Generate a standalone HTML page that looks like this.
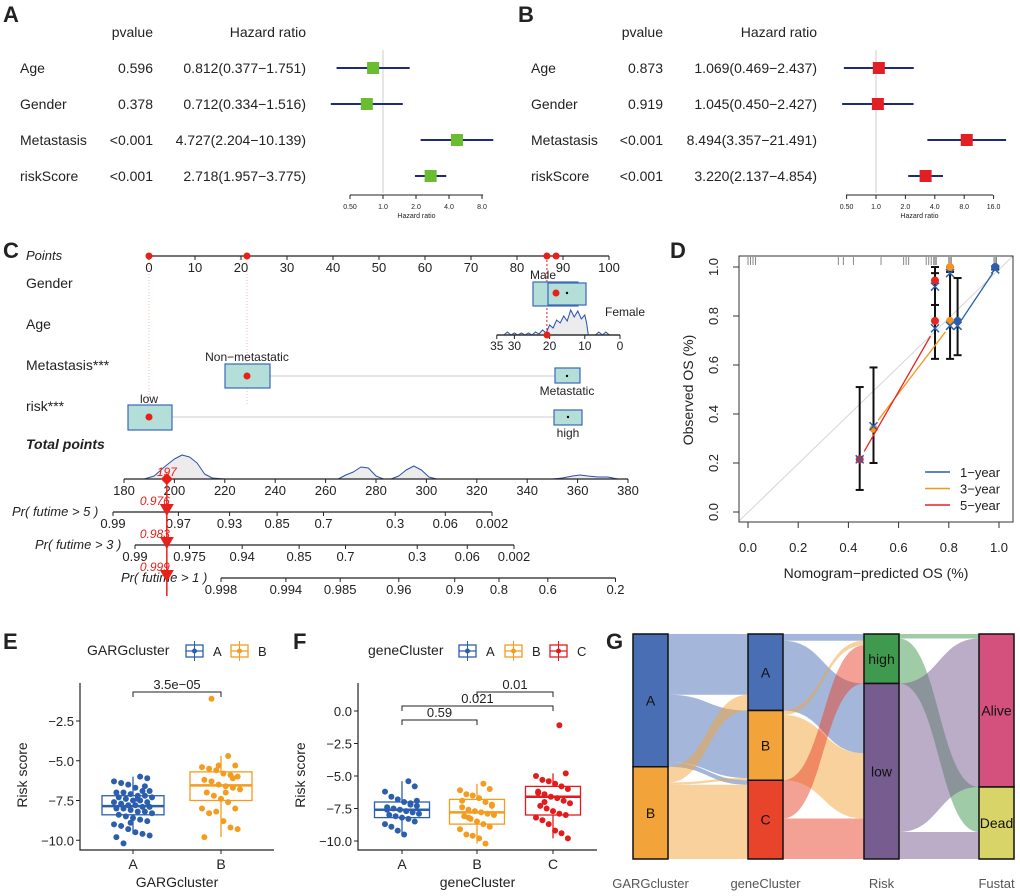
<!DOCTYPE html>
<html><head><meta charset="utf-8"><title>Figure</title>
<style>
html,body{margin:0;padding:0;background:#fff;}
svg{display:block;font-family:"Liberation Sans",Arial,sans-serif;}
</style></head>
<body>
<svg id="fig" width="1020" height="896" viewBox="0 0 1020 896" xmlns="http://www.w3.org/2000/svg">
<rect x="0" y="0" width="1020" height="896" fill="#fff"/>
<text x="3" y="22" font-size="22" font-weight="bold" fill="#222">A</text>
<text x="518" y="22" font-size="22" font-weight="bold" fill="#222">B</text>
<text x="3" y="258" font-size="22" font-weight="bold" fill="#222">C</text>
<text x="670" y="258" font-size="22" font-weight="bold" fill="#222">D</text>
<text x="3" y="649" font-size="22" font-weight="bold" fill="#222">E</text>
<text x="293" y="649" font-size="22" font-weight="bold" fill="#222">F</text>
<text x="606" y="649" font-size="22" font-weight="bold" fill="#222">G</text>
</svg>
<script>
// ---------- DATA ----------
const forestVars=['Age','Gender','Metastasis','riskScore'];
const fA_p=['0.596','0.378','<0.001','<0.001'];
const fA_hr=[0.812,0.712,4.727,2.718];
const fA_lo=[0.377,0.334,2.204,1.957];
const fA_hi=[1.751,1.516,10.139,3.775];
const fA_ticks=[0.5,1,2,4,8];
const fB_p=['0.873','0.919','<0.001','<0.001'];
const fB_hr=[1.069,1.045,8.494,3.220];
const fB_lo=[0.469,0.450,3.357,2.137];
const fB_hi=[2.437,2.427,21.491,4.854];
const fB_ticks=[0.5,1,2,4,8,16];

const nomoPointTicks=[0,10,20,30,40,50,60,70,80,90,100];
const nomoSelectedPoints=[0,21.3,86.5,88.5];
const ageTicks=[35,30,20,10,0];
const ageDensAge=[35,33,32,31,30,29,28,27,26,25,24,23,22,21,20,19,18,17,16,15,14,13,12,11,10,9.5,9,8,7,6,5,4,3,2];
const ageDensH=[0,0,3,0,2,0,2,0,2,0,3,1,5,2,10,7,15,12,19,14,25,18,24,16,20,12,0,0,0,3,0,3,0,0];
const totalTicks=[180,200,220,240,260,280,300,320,340,360,380];
const totalDensX=[188,192,196,200,203,206,209,212,215,220,265,268,271,274,277,280,283,286,289,292,295,298,301,304,350,354,358,361,364,368,372,376];
const totalDensH=[0,3,12,20,24,22,16,5,1,0,0,4,7,12,11,3,0,0,3,9,13,9,2,0,0,1,3,4,3,2,2,0];
const totalScore=197;
const probLabels=['Pr( futime > 5 )','Pr( futime > 3 )','Pr( futime > 1 )'];
const probTicks5=[0.99,0.97,0.93,0.85,0.7,0.3,0.06,0.002];
const probTicks3=[0.99,0.975,0.94,0.85,0.7,0.3,0.06,0.002];
const probTicks1=[0.998,0.994,0.985,0.96,0.9,0.8,0.6,0.2];
const probValues=[0.976,0.983,0.999];

const calRug=[0.0,0.01,0.02,0.03,0.36,0.38,0.42,0.53,0.62,0.63,0.64,0.71,0.72,0.73,0.74,0.745,0.75,0.8,0.805,0.81,0.98,0.985,0.99];
const cal1_pred=[0.835,0.985]; const cal1_obs=[0.78,1.0]; const cal1_x=[0.76,0.99]; const cal1_lo=[0.64,0.99]; const cal1_hi=[0.955,1.0];
const cal3_pred=[0.5,0.805,0.805]; const cal3_obs=[0.34,0.78,1.0]; const cal3_x=[0.35,0.76,0.975]; const cal3_lo=[0.2,0.625,0.98]; const cal3_hi=[0.59,1.0,1.0];
const cal5_pred=[0.445,0.745,0.745]; const cal5_obs=[0.215,0.78,0.945]; const cal5_x=[0.215,0.75,0.92]; const cal5_lo=[0.09,0.625,0.845]; const cal5_hi=[0.51,1.0,0.975];
const calTicks=[0,0.2,0.4,0.6,0.8,1.0];

const eCats=['A','B'];
const eA=[-6.0,-6.1,-6.3,-6.4,-6.5,-6.7,-6.9,-6.9,-7.0,-7.0,-7.1,-7.2,-7.2,-7.3,-7.3,-7.4,-7.5,-7.5,-7.6,-7.6,-7.7,-7.8,-7.8,-7.9,-7.9,-8.0,-8.0,-8.1,-8.2,-8.2,-8.3,-8.4,-8.5,-8.6,-8.7,-8.8,-9.0,-9.1,-9.3,-9.5,-9.6,-9.7,-9.8,-10.2,-8.9,-7.4,-6.6];
const eB=[-4.7,-5.3,-5.4,-5.5,-5.6,-5.8,-5.9,-6.0,-6.2,-6.3,-6.5,-6.6,-6.7,-6.8,-7.0,-7.2,-7.4,-7.6,-8.0,-8.0,-8.3,-8.2,-8.8,-9.2,-9.3,-9.8,-1.1,-5.3,-7.0,-6.1];
const eStats=[[-9.6,-8.4,-7.85,-7.2,-6.0],[-9.8,-7.5,-6.55,-5.7,-4.7]];
const eTicks=[-2.5,-5.0,-7.5,-10.0];
const fCats=['A','B','C'];
const fA=[-5.4,-5.8,-6.2,-6.6,-6.8,-7.0,-7.1,-7.3,-7.4,-7.5,-7.6,-7.7,-7.8,-7.9,-8.0,-8.1,-8.2,-8.3,-8.5,-8.7,-8.9,-9.2,-9.5,-7.2,-6.9,-7.6];
const fB=[-5.6,-6.0,-6.1,-6.4,-6.5,-6.7,-7.0,-7.2,-7.4,-7.6,-7.7,-7.8,-7.9,-8.0,-8.1,-8.3,-8.5,-8.7,-8.9,-9.1,-9.5,-9.6,-9.8,-10.2,-7.3,-6.9,-8.2];
const fC=[-1.1,-4.8,-5.0,-5.3,-5.4,-5.6,-5.8,-6.0,-6.2,-6.4,-6.6,-6.7,-6.9,-7.1,-7.3,-7.5,-7.7,-7.9,-8.0,-8.2,-8.4,-8.7,-9.2,-9.4,-9.8,-6.3,-7.0];
const fStats=[[-9.5,-8.2,-7.6,-7.0,-5.4],[-10.2,-8.7,-7.8,-6.8,-5.6],[-9.8,-8.0,-6.6,-5.8,-4.8]];
const fTicks=[0.0,-2.5,-5.0,-7.5,-10.0];

const gAxes=['GARGcluster','geneCluster','Risk','Fustat'];
const gNodes=[['A','B'],['A','B','C'],['high','low'],['Alive','Dead']];
const gNodeCounts=[[59,41],[34,31,35],[22,78],[68,32]];
const gFlows01=[[27,30,2],[7,1,33]];
const gFlows12=[[3,31],[2,29],[17,18]];
const gFlows23=[[2,20],[66,12]];

// ---------- helpers ----------
const NS='http://www.w3.org/2000/svg';
const svg=document.getElementById('fig');
function mk(tag,attrs,parent){const e=document.createElementNS(NS,tag);for(const k in attrs)e.setAttribute(k,attrs[k]);(parent||svg).appendChild(e);return e;}
function tx(str,x,y,attrs,parent){const e=mk('text',Object.assign({x:x,y:y},attrs||{}),parent);e.textContent=str;return e;}
function grp(){return mk('g',{});}
let el;

// ---------- Panels A & B forest ----------
function forest(ox,labelX,pRight,hrRight,xAt,ticks,p,hr,lo,hi,color,axL,axR,pname){
  const g=grp();
  
  
  el=tx('pvalue',pRight,37,{'font-size':14,'text-anchor':'end',fill:'#222'},g);
  
  
  el=tx('Hazard ratio',hrRight,37,{'font-size':14,'text-anchor':'end',fill:'#222'},g);
  
  
  el=mk('line',{x1:xAt(1),x2:xAt(1),y1:50,y2:193,stroke:'#ccc','stroke-width':1},g);
  
  
  forestVars.forEach((v,i)=>{
    const y=68+i*36;
    el=tx(v,labelX,y+5,{'font-size':14,fill:'#222'},g);
    
    
    el=tx(p[i],pRight,y+5,{'font-size':14,'text-anchor':'end',fill:'#222'},g);
    
    
    el=tx(hr[i].toFixed(3)+'('+lo[i].toFixed(3)+'\u2212'+hi[i].toFixed(3)+')',hrRight,y+5,{'font-size':14,'text-anchor':'end',fill:'#222'},g);
    
    
    el=mk('line',{x1:xAt(lo[i]),x2:xAt(hi[i]),y1:y,y2:y,stroke:'#1f2a78','stroke-width':2},g);
    
    
    el=mk('rect',{x:xAt(hr[i])-6,y:y-6,width:12,height:12,fill:color},g);
    
    
  });
  el=mk('line',{x1:axL,x2:axR,y1:195,y2:195,stroke:'#222','stroke-width':1},g);
  
  
  ticks.forEach(t=>{
    el=mk('line',{x1:xAt(t),x2:xAt(t),y1:195,y2:199,stroke:'#222'},g);
    
    
    el=tx(t.toFixed(t<1?2:1),xAt(t),209,{'font-size':7,'text-anchor':'middle',fill:'#222'},g);
    
    
  });
  el=tx('Hazard ratio',(axL+axR)/2,218,{'font-size':7,'text-anchor':'middle',fill:'#222'},g);
  
  
}
forest(0,20,153,306,h=>383+33*Math.log2(h),fA_ticks,fA_p,fA_hr,fA_lo,fA_hi,'#6abd2f',350,483,'forest-plot-a');
forest(500,531,663,817,h=>876+29.4*Math.log2(h),fB_ticks,fB_p,fB_hr,fB_lo,fB_hi,'#e31f26',846,993,'forest-plot-b');

// ---------- Panel C nomogram ----------
(function(){
  const g=grp();
  
  
  const ptX=v=>149+v*4.6;
  const ageX=a=>620-a*3.52;
  const totX=t=>124+(t-180)*2.52;
  const F={'font-size':14,fill:'#222'};
  // faint dotted guide lines
  [ptX(0),ptX(21.3)].forEach(x=>{
    el=mk('line',{x1:x,x2:x,y1:256,y2:405,stroke:'#f4b8b0','stroke-width':1,'stroke-dasharray':'1,2'},g);
    
    
  });
  el=mk('line',{x1:ptX(86.5),x2:ptX(86.5),y1:256,y2:335,stroke:'#e8201a','stroke-width':1,'stroke-dasharray':'2,2'},g);
  
  
  el=tx('Points',26,260,{'font-size':13,'font-style':'italic',fill:'#222'},g);
  
  
  el=mk('line',{x1:ptX(0),x2:ptX(100),y1:256,y2:256,stroke:'#222','stroke-width':1.2},g);
  
  
  nomoPointTicks.forEach(t=>{
    el=mk('line',{x1:ptX(t),x2:ptX(t),y1:256,y2:260,stroke:'#222'},g);
    
    
    el=tx(String(t),ptX(t),272,{'font-size':13,'text-anchor':'middle',fill:'#222'},g);
    
    
  });
  nomoSelectedPoints.forEach(v=>{
    el=mk('circle',{cx:ptX(v),cy:256,r:3.5,fill:'#e8201a'},g);
    
    
  });
  // variable labels
  [['Gender',288],['Age',329],['Metastasis***',370],['risk***',411]].forEach(l=>{
    el=tx(l[0],26,l[1],F,g);
    
    
  });
  el=tx('Total points',26,449,{'font-size':14,'font-weight':'bold','font-style':'italic',fill:'#222'},g);
  
  
  const BOX={fill:'#b4ded8',stroke:'#3b68b8','stroke-width':1.2};
  // gender
  el=mk('rect',Object.assign({x:533,y:282,width:45,height:24},BOX),g);
  
  
  el=mk('rect',Object.assign({x:548,y:283,width:38,height:22},BOX),g);
  
  
  el=mk('circle',{cx:556,cy:293,r:3.5,fill:'#e8201a'},g);
  
  
  el=mk('circle',{cx:567,cy:293,r:1.2,fill:'#000'},g);
  
  
  el=tx('Male',530,279,{'font-size':12,fill:'#222'},g);
  
  
  el=tx('Female',605,316,{'font-size':12,fill:'#222'},g);
  
  
  // age density
  let d='M'+ageX(ageDensAge[0])+',335';
  ageDensAge.forEach((a,i)=>{d+=' L'+ageX(a).toFixed(1)+','+(335-ageDensH[i]);});
  d+=' L'+ageX(ageDensAge[ageDensAge.length-1])+',335 Z';
  el=mk('path',{d:d,fill:'#ececec',stroke:'#2a4fb0','stroke-width':1},g);
  
  
  el=mk('line',{x1:ageX(35),x2:ageX(0),y1:335,y2:335,stroke:'#333','stroke-width':1.5},g);
  
  
  ageTicks.forEach(a=>{
    el=mk('line',{x1:ageX(a),x2:ageX(a),y1:335,y2:339,stroke:'#222'},g);
    
    
    el=tx(String(a),ageX(a),350,{'font-size':12,'text-anchor':'middle',fill:'#222'},g);
    
    
  });
  el=mk('circle',{cx:547,cy:335,r:3.5,fill:'#e8201a'},g);
  
  
  // metastasis
  el=mk('line',{x1:270,x2:555,y1:376,y2:376,stroke:'#ccc','stroke-width':1},g);
  
  
  el=mk('rect',Object.assign({x:225,y:364,width:45,height:24},BOX),g);
  
  
  el=mk('circle',{cx:247,cy:376,r:3.5,fill:'#e8201a'},g);
  
  
  el=mk('rect',Object.assign({x:555,y:368,width:25,height:15},BOX),g);
  
  
  el=mk('circle',{cx:567,cy:376,r:1.2,fill:'#000'},g);
  
  
  el=tx('Non\u2212metastatic',247,361,{'font-size':12,'text-anchor':'middle',fill:'#222'},g);
  
  
  el=tx('Metastatic',567,395,{'font-size':12,'text-anchor':'middle',fill:'#222'},g);
  
  
  // risk
  el=mk('line',{x1:172,x2:554,y1:417,y2:417,stroke:'#ccc','stroke-width':1},g);
  
  
  el=mk('rect',Object.assign({x:128,y:405,width:44,height:25},BOX),g);
  
  
  el=mk('circle',{cx:149,cy:417,r:3.5,fill:'#e8201a'},g);
  
  
  el=mk('rect',Object.assign({x:554,y:410,width:28,height:15},BOX),g);
  
  
  el=mk('circle',{cx:568,cy:417,r:1.2,fill:'#000'},g);
  
  
  el=tx('low',149,403,{'font-size':12,'text-anchor':'middle',fill:'#222'},g);
  
  
  el=tx('high',568,437,{'font-size':12,'text-anchor':'middle',fill:'#222'},g);
  
  
  // total density
  d='M'+totX(totalDensX[0]).toFixed(1)+',479';
  totalDensX.forEach((t,i)=>{d+=' L'+totX(t).toFixed(1)+','+(479-totalDensH[i]);});
  d+=' Z';
  el=mk('path',{d:d,fill:'#ececec',stroke:'#2a4fb0','stroke-width':1,'stroke-linejoin':'round'},g);
  
  
  el=mk('line',{x1:totX(180),x2:totX(380),y1:479,y2:479,stroke:'#222','stroke-width':1.2},g);
  
  
  totalTicks.forEach(t=>{
    el=mk('line',{x1:totX(t),x2:totX(t),y1:479,y2:483,stroke:'#222'},g);
    
    
    el=tx(String(t),totX(t),495,{'font-size':13,'text-anchor':'middle',fill:'#222'},g);
    
    
  });
  const sx=totX(totalScore);
  el=tx(String(totalScore),sx,476,{'font-size':12,'font-style':'italic','text-anchor':'middle',fill:'#e8201a'},g);
  
  
  // prob axes
  const lpx=p=>Math.log(-Math.log(p));
  const axes=[[probTicks5,113,512,12],[probTicks3,135,545,35],[probTicks1,221,578,121]];
  axes.forEach((a,k)=>{
    const ticks=a[0],x0=a[1],y=a[2];
    const px=p=>x0+58.97*(lpx(p)-lpx(ticks[0]));
    el=tx(probLabels[k],a[3],y+4,{'font-size':13,'font-style':'italic',fill:'#222'},g);
    
    
    el=mk('line',{x1:px(ticks[0]),x2:px(ticks[ticks.length-1]),y1:y,y2:y,stroke:'#222','stroke-width':1.2},g);
    
    
    ticks.forEach(t=>{
      el=mk('line',{x1:px(t),x2:px(t),y1:y,y2:y+4,stroke:'#222'},g);
      
      
      el=tx(String(t),px(t),y+16,{'font-size':13,'text-anchor':'middle',fill:'#222'},g);
      
      
    });
    el=tx(probValues[k].toFixed(3),sx-27,y-7,{'font-size':12,'font-style':'italic',fill:'#e8201a'},g);
    
    
  });
  el=mk('line',{x1:sx,x2:sx,y1:479,y2:596,stroke:'#e8201a','stroke-width':1.5},g);
  
  
  el=mk('path',{d:`M${sx},473 L${sx+6},479 L${sx},485 L${sx-6},479 Z`,fill:'#e8201a'},g);
  
  
  [512,545,578].forEach(y=>{
    el=mk('path',{d:`M${sx-7},${y-8} L${sx+7},${y-8} L${sx},${y+4} Z`,fill:'#e8201a'},g);
    
    
  });
})();

// ---------- Panel D calibration ----------
(function(){
  const g=grp();
  
  
  const X=v=>748+v*251, Y=v=>512-v*245;
  el=mk('line',{x1:739,y1:521,x2:1013,y2:256,stroke:'#d6d6d6','stroke-width':1},g);
  
  
  calRug.forEach(v=>{
    el=mk('line',{x1:X(v),x2:X(v),y1:257,y2:265,stroke:'#888','stroke-width':1},g);
    
    
  });
  const series=[[cal1_pred,cal1_obs,cal1_x,cal1_lo,cal1_hi,'#2b5fae','1-year'],[cal3_pred,cal3_obs,cal3_x,cal3_lo,cal3_hi,'#f7941d','3-year'],[cal5_pred,cal5_obs,cal5_x,cal5_lo,cal5_hi,'#e8251f','5-year']];
  series.forEach(s=>{
    s[0].forEach((p,i)=>{
      el=mk('line',{x1:X(p),x2:X(p),y1:Y(s[3][i]),y2:Y(s[4][i]),stroke:'#111','stroke-width':2},g);
      
      
      [s[3][i],s[4][i]].forEach(v=>{
        el=mk('line',{x1:X(p)-4,x2:X(p)+4,y1:Y(v),y2:Y(v),stroke:'#111','stroke-width':2},g);
        
        
      });
    });
  });
  series.forEach(s=>{
    const n=s[0].length;
    const i0=0, i1=(n===2?1:1);
    const xa=s[0][0],ya=s[2][0],xb=s[0][i1],yb=s[2][i1];
    const f=0.06;
    el=mk('line',{x1:X(xa+(xb-xa)*f),y1:Y(ya+(yb-ya)*f),x2:X(xb-(xb-xa)*f),y2:Y(yb-(yb-ya)*f),stroke:s[5],'stroke-width':1.3},g);
    
    
    s[0].forEach((p,i)=>{
      el=mk('circle',{cx:X(p),cy:Y(s[1][i]),r:4,fill:s[5]},g);
      
      
      const cx=X(p),cy=Y(s[2][i]);
      el=mk('path',{d:`M${cx-4},${cy-4} L${cx+4},${cy+4} M${cx-4},${cy+4} L${cx+4},${cy-4}`,stroke:'#2b5fae','stroke-width':1.5},g);
      
      
    });
  });
  el=mk('rect',{x:739,y:256,width:274,height:266,fill:'none',stroke:'#333','stroke-width':1},g);
  
  
  calTicks.forEach(t=>{
    el=mk('line',{x1:X(t),x2:X(t),y1:522,y2:528,stroke:'#333'},g);
    
    
    el=tx(t.toFixed(1),X(t),552,{'font-size':13,'text-anchor':'middle',fill:'#222'},g);
    
    
    el=mk('line',{x1:739,x2:733,y1:Y(t),y2:Y(t),stroke:'#333'},g);
    
    
    el=tx(t.toFixed(1),718,Y(t),{'font-size':13,'text-anchor':'middle',fill:'#222',transform:`rotate(-90 718 ${Y(t)})`},g);
    
    
  });
  el=tx('Nomogram\u2212predicted OS (%)',876,578,{'font-size':14,'text-anchor':'middle',fill:'#222'},g);
  
  
  el=tx('Observed OS (%)',693,390,{'font-size':14,'text-anchor':'middle',fill:'#222',transform:'rotate(-90 693 390)'},g);
  
  
  series.forEach((s,i)=>{
    const y=472+i*16.5;
    el=mk('line',{x1:925,x2:950,y1:y,y2:y,stroke:s[5],'stroke-width':1.5},g);
    
    
    el=tx(s[6].replace('-','\u2212'),960,y+5,{'font-size':13,fill:'#222'},g);
    
    
  });
})();

// ---------- Panels E & F boxplots ----------
function boxPanel(cfg){
  const g=grp();
  
  
  const Y=v=>cfg.y0+(v-cfg.v0)*cfg.k;
  // legend
  el=tx(cfg.legTitle,cfg.legX,655,{'font-size':14,fill:'#222'},g);
  
  
  cfg.cats.forEach((c,i)=>{
    const lx=cfg.legKeyX[i];
    el=mk('rect',{x:lx,y:645,width:17,height:12,fill:'none',stroke:cfg.cols[i],'stroke-width':1.3},g);
    
    
    el=mk('line',{x1:lx,x2:lx+17,y1:651,y2:651,stroke:cfg.cols[i],'stroke-width':1.3},g);
    
    
    el=mk('line',{x1:lx+8.5,x2:lx+8.5,y1:641,y2:661,stroke:cfg.cols[i],'stroke-width':1},g);
    
    
    el=mk('circle',{cx:lx+8.5,cy:651,r:2.5,fill:cfg.cols[i]},g);
    
    
    el=tx(c,lx+27,656,{'font-size':13,fill:'#222'},g);
    
    
  });
  // axes
  el=mk('path',{d:`M${cfg.ax},683 L${cfg.ax},850 L${cfg.axR},850`,fill:'none',stroke:'#222','stroke-width':1.2},g);
  
  
  cfg.ticks.forEach(t=>{
    el=mk('line',{x1:cfg.ax-4,x2:cfg.ax,y1:Y(t),y2:Y(t),stroke:'#222'},g);
    
    
    el=tx((t<0?'\u2212':'')+Math.abs(t).toFixed(1),cfg.ax-6,Y(t)+5,{'font-size':13,'text-anchor':'end',fill:'#222'},g);
    
    
  });
  cfg.cats.forEach((c,i)=>{
    const cx=cfg.cx[i];
    el=mk('line',{x1:cx,x2:cx,y1:850,y2:854,stroke:'#222'},g);
    
    
    el=tx(c,cx,869,{'font-size':14,'text-anchor':'middle',fill:'#222'},g);
    
    
    const s=cfg.stats[i], col=cfg.cols[i], w=cfg.bw;
    el=mk('line',{x1:cx,x2:cx,y1:Y(s[0]),y2:Y(s[1]),stroke:col,'stroke-width':1.3},g);
    
    
    el=mk('line',{x1:cx,x2:cx,y1:Y(s[3]),y2:Y(s[4]),stroke:col,'stroke-width':1.3},g);
    
    
    el=mk('rect',{x:cx-w/2,y:Y(s[3]),width:w,height:Y(s[1])-Y(s[3]),fill:'#fff',stroke:col,'stroke-width':1.3},g);
    
    
    el=mk('line',{x1:cx-w/2,x2:cx+w/2,y1:Y(s[2]),y2:Y(s[2]),stroke:col,'stroke-width':2.5},g);
    
    
    cfg.vals[i].forEach((v,j)=>{
      const jit=(((j*37+11)%17)/16-0.5)*cfg.jw;
      el=mk('circle',{cx:cx+jit,cy:Y(v),r:3,fill:col},g);
      
      
    });
  });
  cfg.brackets.forEach(b=>{
    const x1=cfg.cx[b[0]],x2=cfg.cx[b[1]],y=b[2];
    el=mk('path',{d:`M${x1},${y+5} L${x1},${y} L${x2},${y} L${x2},${y+5}`,fill:'none',stroke:'#222','stroke-width':1},g);
    
    
    el=tx(b[3],(x1+x2)/2,y-3,{'font-size':13,'text-anchor':'middle',fill:'#222'},g);
    
    
  });
  el=tx(cfg.legTitle,(cfg.ax+cfg.axR)/2,887,{'font-size':14,'text-anchor':'middle',fill:'#222'},g);
  
  
  el=tx('Risk score',cfg.ytX,775,{'font-size':14,'text-anchor':'middle',fill:'#222',transform:`rotate(-90 ${cfg.ytX} 775)`},g);
  
  
}
boxPanel({name:'boxplot-garg',legTitle:'GARGcluster',legX:87,legKeyX:[186,231],cats:eCats,cols:['#2b5fae','#f39c1f'],
  ax:80,axR:274,y0:721,v0:-2.5,k:-15.9,ticks:eTicks,cx:[133,221],bw:62,jw:38,stats:eStats,vals:[eA,eB],
  brackets:[[0,1,692,'3.5e\u221205']],ytX:27});
boxPanel({name:'boxplot-genecluster',legTitle:'geneCluster',legX:368,legKeyX:[459,505,550],cats:fCats,cols:['#2b5fae','#f39c1f','#e41a1c'],
  ax:358,axR:597,y0:711,v0:0,k:-13,ticks:fTicks,cx:[402,477,553],bw:55,jw:34,stats:fStats,vals:[fA,fB,fC],
  brackets:[[0,1,720,'0.59'],[0,2,706,'0.021'],[1,2,692,'0.01']],ytX:305});

// ---------- Panel G alluvial ----------
(function(){
  const g=grp();
  
  
  const colX=[633,748,864,979], W=35, top=634, H=225, tot=100, k=H/tot;
  const nodeCols=[['#4a6eb4','#f2a33a'],['#4a6eb4','#f2a33a','#e8432b'],['#3f9a4f','#775c8f'],['#d4507d','#d8d468']];
  const nodeTop=gNodeCounts.map(c=>{let a=top;return c.map(v=>{const t=a;a+=v*k;return t;});});
  const flows=[gFlows01,gFlows12,gFlows23];
  flows.forEach((F,a)=>{
    const outOff=nodeTop[a].slice(), inOff=nodeTop[a+1].slice();
    // incoming stacking order: by source
    const inStart=[];
    for(let s=0;s<F.length;s++){inStart[s]=[];}
    for(let t=0;t<F[0].length;t++){let off=nodeTop[a+1][t];for(let s=0;s<F.length;s++){inStart[s][t]=off;off+=F[s][t]*k;}}
    const x1=colX[a]+W,x2=colX[a+1],mx=(x1+x2)/2;
    for(let s=0;s<F.length;s++){
      let o=nodeTop[a][s];
      for(let t=0;t<F[s].length;t++){
        const h=F[s][t]*k; if(h<=0) continue;
        const y1=o,y2=inStart[s][t];
        const d=`M${x1},${y1} C${mx},${y1} ${mx},${y2} ${x2},${y2} L${x2},${y2+h} C${mx},${y2+h} ${mx},${y1+h} ${x1},${y1+h} Z`;
        el=mk('path',{d:d,fill:nodeCols[a][s],'fill-opacity':0.5},g);
        
        
        o+=h;
      }
    }
  });
  gNodes.forEach((names,a)=>{
    names.forEach((n,i)=>{
      const y=nodeTop[a][i],h=gNodeCounts[a][i]*k;
      el=mk('rect',{x:colX[a],y:y,width:W,height:h,fill:nodeCols[a][i],stroke:'#111','stroke-width':1.5},g);
      
      
      el=tx(n,colX[a]+W/2,y+h/2+5,{'font-size':14,'text-anchor':'middle',fill:'#111'},g);
      
      
    });
    el=tx(gAxes[a],colX[a]+W/2,888,{'font-size':13,'text-anchor':'middle',fill:'#555'},g);
    
    
  });
})();
</script>
</body></html>
